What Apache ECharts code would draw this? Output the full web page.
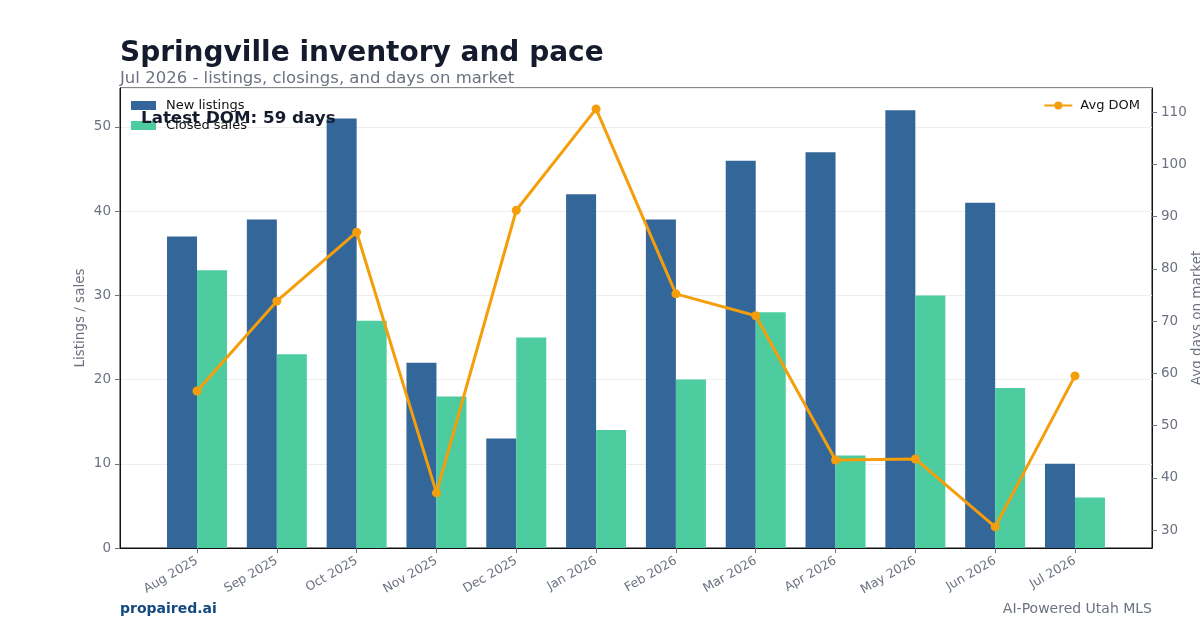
<!DOCTYPE html>
<html><head><meta charset="utf-8">
<script src="https://cdn.jsdelivr.net/npm/echarts@6/dist/echarts.min.js"></script>
<style>html,body{margin:0;padding:0;background:#fff}#c{width:1200px;height:630px}</style>
</head><body><div id="c"></div>
<script>
const categories = ['Aug 2025','Sep 2025','Oct 2025','Nov 2025','Dec 2025','Jan 2026','Feb 2026','Mar 2026','Apr 2026','May 2026','Jun 2026','Jul 2026'];
const newListings = [37,39,51,22,13,42,39,46,47,52,41,10];
const closedSales = [33,23,27,18,25,14,20,28,11,30,19,6];
const avgDom = [56.6,73.8,87.0,37.1,91.2,110.6,75.2,71.0,43.4,43.6,30.6,59.5];
const leftTicks = [0,10,20,30,40,50];
const rightTicks = [30,40,50,60,70,80,90,100,110];
const latestDom = 59;

const FONT = 'DejaVu Sans';
const idx = categories.map((_, i) => i);
const chart = echarts.init(document.getElementById('c'));
chart.setOption({
  backgroundColor: '#fff',
  animation: false,
  textStyle: { fontFamily: FONT },
  title: [
    { text: 'Springville inventory and pace', left: 120, top: 40, padding: 0,
      textStyle: { fontFamily: FONT, fontSize: 28, fontWeight: 'bold', color: '#141b2d' } },
    { text: 'Jul 2026 - listings, closings, and days on market', left: 120, top: 70, padding: 0,
      textStyle: { fontFamily: FONT, fontSize: 16.5, fontWeight: 'normal', color: '#6b7280' } }
  ],
  legend: [
    { data: ['New listings', 'Closed sales'], orient: 'vertical', left: 131, top: 99, padding: 0,
      itemWidth: 25, itemHeight: 9, itemGap: 7, icon: 'rect',
      textStyle: { fontFamily: FONT, fontSize: 13, color: '#111', padding: [0, 0, 0, 5] } },
    { data: ['Avg DOM'], right: 60, top: 99, padding: 0, itemWidth: 28, itemHeight: 10,
      textStyle: { fontFamily: FONT, fontSize: 13, color: '#111', padding: [0, 0, 0, 3] } }
  ],
  grid: { left: 120, right: 48, top: 88, bottom: 82, outerBoundsMode: 'none', containLabel: false,
    show: true, borderColor: '#111', borderWidth: 1, backgroundColor: 'transparent' },
  xAxis: {
    type: 'value', min: -0.965, max: 11.965,
    splitLine: { show: false },
    axisLine: { onZero: false, lineStyle: { color: '#111', width: 1 } },
    axisTick: { customValues: idx, length: 5, lineStyle: { color: '#6b7280' } },
    axisLabel: { customValues: idx, rotate: 30, fontFamily: FONT, fontSize: 12.5, color: '#6b7280', margin: 12,
      formatter: v => categories[Math.round(v)] }
  },
  yAxis: [
    { type: 'value', min: 0, max: 54.63, interval: 10, position: 'left',
      name: 'Listings / sales', nameLocation: 'middle', nameGap: 33, nameRotate: 90, nameMoveOverlap: false,
      nameTextStyle: { fontFamily: FONT, fontSize: 13.5, color: '#6b7280' },
      axisLine: { show: true, onZero: false, lineStyle: { color: '#111' } },
      axisTick: { show: true, length: 5, lineStyle: { color: '#6b7280' } },
      axisLabel: { showMaxLabel: false, fontFamily: FONT, fontSize: 13.5, color: '#6b7280', margin: 9 },
      splitLine: { show: true, lineStyle: { color: '#eeeeee', width: 1 } } },
    { type: 'value', min: 26.56, max: 114.6, position: 'right',
      name: 'Avg days on market', nameLocation: 'middle', nameGap: 38, nameRotate: 90, nameMoveOverlap: false,
      nameTextStyle: { fontFamily: FONT, fontSize: 13.5, color: '#6b7280' },
      axisLine: { show: true, onZero: false, lineStyle: { color: '#111' } },
      axisTick: { show: true, customValues: rightTicks, length: 5, lineStyle: { color: '#6b7280' } },
      axisLabel: { customValues: rightTicks, fontFamily: FONT, fontSize: 13.5, color: '#6b7280', margin: 9 },
      splitLine: { show: false } }
  ],
  series: [
    { name: 'New listings', type: 'bar', yAxisIndex: 0, barWidth: 30, barGap: '0%',
      itemStyle: { color: '#336699' }, data: newListings.map((v, i) => [i, v]) },
    { name: 'Closed sales', type: 'bar', yAxisIndex: 0, barWidth: 30, barGap: '0%',
      itemStyle: { color: '#4ccc9f' }, data: closedSales.map((v, i) => [i, v]) },
    { name: 'Avg DOM', type: 'line', yAxisIndex: 1, symbol: 'circle', symbolSize: 9, z: 5,
      lineStyle: { color: '#f59e0b', width: 3 }, itemStyle: { color: '#f59e0b' },
      data: avgDom.map((v, i) => [i, v]) }
  ],
  graphic: [
    { type: 'text', left: 141, top: 110, z: 100,
      style: { text: 'Latest DOM: ' + latestDom + ' days', fontFamily: FONT, fontSize: 16.7, fontWeight: 'bold', fill: '#141b2d' } },
    { type: 'text', left: 120, top: 602,
      style: { text: 'propaired.ai', fontFamily: FONT, fontSize: 14, fontWeight: 'bold', fill: '#134a80' } },
    { type: 'text', right: 48, top: 602,
      style: { text: 'AI-Powered Utah MLS', fontFamily: FONT, fontSize: 14, fill: '#6b7280' } }
  ]
});
</script></body></html>
